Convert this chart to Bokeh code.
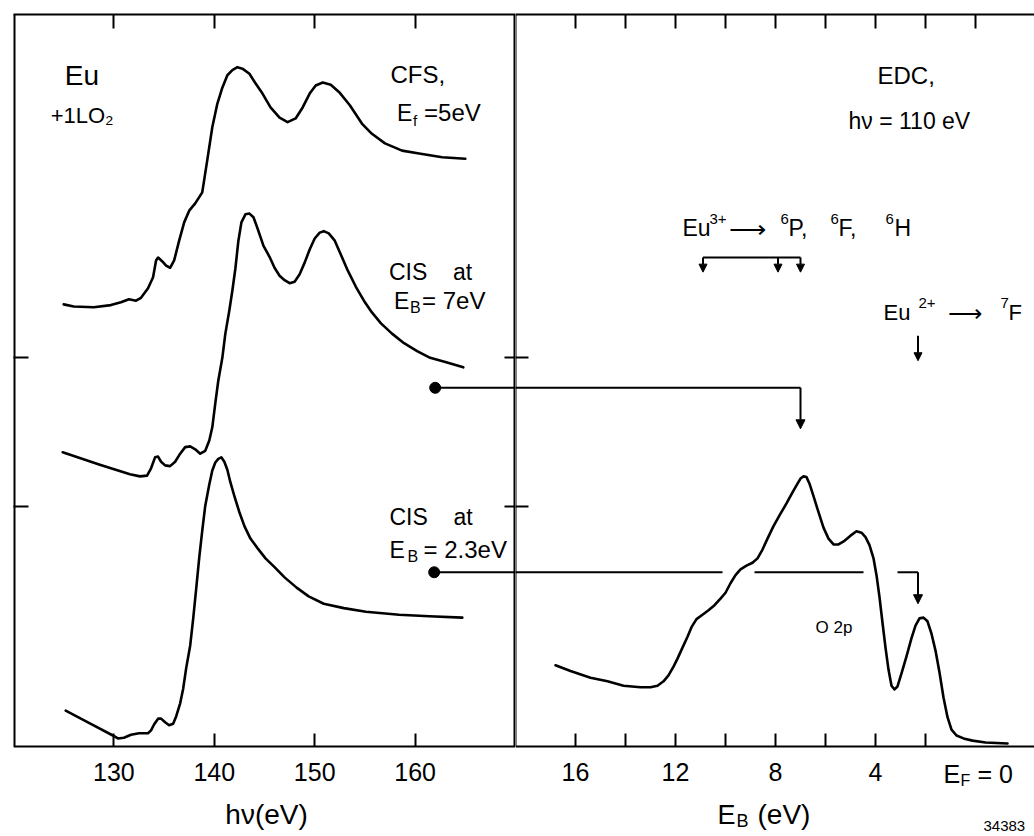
from bokeh.plotting import figure
from bokeh.layouts import row
from bokeh.models import Range1d, FixedTicker, LinearAxis, Label, Arrow, NormalHead
from bokeh.embed import file_html
from bokeh.resources import INLINE

# ---------------- data ----------------
# Left panel: photon energy hv (eV) vs. intensity (arb. units, 0..100)
cfs_hv = [125.0, 126.0, 128.0, 129.7, 130.7, 131.5, 132.2, 132.7, 133.4, 133.9, 134.2, 134.4,
          134.8, 135.2, 135.6, 136.0, 136.5, 137.0, 137.5, 138.1, 138.8, 139.3, 139.8, 140.3,
          140.8, 141.3, 141.8, 142.3, 142.8, 143.5, 144.1, 144.8, 145.6, 146.5, 147.3, 148.1,
          148.8, 149.5, 150.1, 150.8, 151.6, 152.5, 153.5, 154.7, 155.7, 157.0, 158.7, 160.4,
          162.7, 165.0]
cfs_int = [60.4, 60.1, 60.0, 60.3, 60.7, 61.1, 60.9, 61.3, 62.6, 64.1, 66.4, 66.8,
           66.3, 65.7, 65.4, 66.4, 69.1, 71.6, 73.2, 74.2, 75.7, 80.1, 84.6, 87.8,
           90.0, 91.7, 92.4, 92.8, 92.6, 91.9, 90.6, 89.2, 87.3, 85.9, 85.3, 85.8,
           87.3, 89.2, 90.3, 90.7, 90.4, 89.3, 87.6, 85.1, 83.7, 82.4, 81.4, 81.0,
           80.5, 80.3]

cis7_hv = [124.9, 128.6, 131.6, 132.6, 133.3, 133.7, 134.1, 134.4, 134.7, 135.1, 135.6, 136.1,
           136.6, 137.1, 137.6, 138.1, 138.6, 139.1, 139.5, 139.8, 140.1, 140.4, 140.8, 141.1,
           141.5, 141.8, 142.1, 142.4, 142.7, 143.1, 143.5, 143.9, 144.3, 144.9, 145.5, 146.0,
           146.5, 147.0, 147.5, 148.0, 148.5, 149.0, 149.5, 150.0, 150.5, 150.9, 151.4, 152.0,
           152.6, 153.3, 154.1, 154.9, 155.7, 156.6, 157.7, 158.9, 160.2, 161.5, 163.1, 164.8]
cis7_int = [40.2, 38.5, 37.2, 36.9, 37.0, 38.0, 39.5, 39.6, 38.9, 38.4, 38.3, 38.9,
            40.0, 40.9, 41.0, 40.6, 40.0, 40.4, 41.8, 43.6, 46.9, 50.0, 53.1, 56.4,
            59.6, 62.3, 65.3, 69.1, 71.6, 72.7, 72.8, 72.3, 70.8, 68.4, 66.9, 65.4,
            64.3, 63.7, 63.3, 63.5, 64.5, 66.1, 67.9, 69.4, 70.2, 70.4, 70.1, 69.1,
            67.2, 65.0, 62.8, 60.9, 59.3, 57.8, 56.4, 55.1, 54.0, 53.1, 52.5, 51.8]

cis23_hv = [125.2, 127.7, 129.9, 130.4, 131.0, 131.7, 132.5, 133.4, 133.7, 134.0, 134.4, 134.7,
            135.1, 135.5, 135.9, 136.2, 136.6, 136.9, 137.2, 137.6, 137.9, 138.2, 138.5, 138.8,
            139.1, 139.5, 139.8, 140.1, 140.4, 140.7, 141.0, 141.3, 141.6, 142.0, 142.5, 143.0,
            143.6, 144.3, 145.1, 146.0, 147.0, 148.2, 149.4, 150.9, 152.9, 155.1, 158.4, 161.4,
            164.7]
cis23_int = [4.9, 3.1, 1.5, 1.1, 1.2, 1.6, 1.8, 1.8, 2.2, 3.0, 3.8, 3.8,
             3.3, 2.9, 3.1, 4.1, 5.9, 7.9, 10.7, 13.8, 17.5, 21.6, 25.8, 29.5,
             32.9, 35.8, 37.7, 38.8, 39.3, 39.5, 38.9, 37.8, 36.1, 34.2, 32.0, 30.1,
             28.4, 27.1, 25.7, 24.5, 23.1, 21.7, 20.5, 19.5, 18.9, 18.4, 18.0, 17.8,
             17.6]

# Right panel: binding energy E_B (eV) vs. intensity
edc_eb = [16.80, 16.20, 15.40, 14.72, 14.08, 13.40, 13.00, 12.72, 12.48, 12.28, 12.08, 11.92,
          11.72, 11.52, 11.36, 11.16, 10.92, 10.68, 10.44, 10.20, 10.00, 9.80, 9.60, 9.40,
          9.16, 8.92, 8.72, 8.52, 8.32, 8.08, 7.80, 7.56, 7.32, 7.12, 7.00, 6.88, 6.76, 6.64,
          6.48, 6.28, 6.08, 5.88, 5.68, 5.48, 5.24, 5.00, 4.76, 4.56, 4.40, 4.24, 4.08, 3.96,
          3.84, 3.72, 3.60, 3.48, 3.36, 3.24, 3.12, 2.96, 2.76, 2.56, 2.40, 2.24, 2.08, 1.92,
          1.76, 1.60, 1.44, 1.28, 1.12, 0.96, 0.76, 0.48, 0.12, -0.40, -1.28]
edc_int = [11.1, 10.3, 9.4, 8.9, 8.3, 8.1, 8.1, 8.3, 8.9, 9.7, 10.9, 12.0,
           13.5, 15.0, 16.3, 17.4, 18.0, 18.6, 19.3, 20.2, 21.0, 22.3, 23.4, 24.2,
           24.7, 25.1, 25.7, 26.9, 28.4, 30.1, 31.8, 33.2, 34.7, 35.9, 36.6, 36.9, 36.8, 35.9,
           34.2, 32.0, 29.9, 28.4, 27.6, 27.6, 28.1, 28.8, 29.4, 29.2, 28.6, 27.5, 25.7, 23.4,
           20.4, 16.9, 13.5, 10.5, 8.3, 7.8, 8.2, 10.0, 12.3, 14.8, 16.5, 17.5, 17.6, 17.1,
           15.4, 13.1, 10.1, 6.7, 4.0, 2.3, 1.5, 1.1, 0.8, 0.55, 0.4]

# CIS markers: dot (hv, intensity) -> binding energy selected in the EDC
cis_dot_hv = [162.0, 161.9]
cis_dot_int = [49.0, 23.8]
cis_eb = [7.0, 2.3]
cis_arrow_tip = [43.4, 19.5]
cis23_gaps_eb = [(10.12, 8.84), (4.48, 3.12)]   # breaks where the line crosses the EDC

# multiplet final-state markers
eu3_levels = [10.9, 7.9, 7.0]
eu3_bar_int, eu3_tip_int = 66.8, 64.8
eu2_level = 2.3
eu2_start_int, eu2_tip_int = 56.1, 52.7

hv_range = (120, 170)
eb_range = (18.4, -2.36)
int_range = (-12.3, 100)
hv_ticks = [130, 140, 150, 160]
eb_bottom_ticks = [16, 14, 12, 10, 8, 6, 4, 2]
eb_top_ticks = [16, 14, 12, 10, 8, 6, 4, 2, 0]
eb_tick_labels = {16: "16", 14: "", 12: "12", 10: "", 8: "8", 6: "", 4: "4", 2: ""}
y_ticks = [32.8, 53.1]

# ---------------- styling ----------------
FONT = "Liberation Sans"
LW = 2.6
BASE_SHIFT = 8  # px: lifts label text so its baseline sits on the given point
NB = "\u00a0"


def style_axis(ax, ticks, tick_in, labels=None, line=True):
    ax.ticker = FixedTicker(ticks=ticks)
    ax.major_tick_in = tick_in
    ax.major_tick_out = 0
    ax.minor_tick_in = 0
    ax.minor_tick_out = 0
    ax.axis_line_color = "black" if line else None
    ax.axis_line_width = 2
    ax.major_tick_line_color = "black"
    ax.major_tick_line_width = 2
    ax.axis_label = None
    if labels is None:
        ax.major_label_text_font_size = "0px"
        ax.major_label_text_color = None
        ax.major_label_standoff = 0
    else:
        ax.major_label_overrides = labels
        ax.major_label_text_font = FONT
        ax.major_label_text_font_size = "25px"
        ax.major_label_text_color = "black"
        ax.major_label_standoff = 17


def make_fig(width, xr, mbl):
    p = figure(width=width, height=836, x_range=Range1d(*xr), y_range=Range1d(*int_range),
               output_backend="svg", toolbar_location=None,
               min_border_left=mbl, min_border_right=0, min_border_top=14, min_border_bottom=0,
               outline_line_color=None, background_fill_color="white",
               border_fill_color="white")
    p.xgrid.grid_line_color = None
    p.ygrid.grid_line_color = None
    # bottom axis drawn at zero intensity inside the frame, labels below it
    p.xaxis[0].fixed_location = 0
    return p


def label(p, x, y, text, size, dx=0, dy=0):
    p.add_layout(Label(x=x, y=y, text=text, x_offset=dx, y_offset=dy + BASE_SHIFT,
                       text_font=FONT, text_font_size=size, text_color="black",
                       text_baseline="alphabetic", text_align="left"))


def down_arrow(p, x, y0, y1, size=9):
    p.add_layout(Arrow(end=NormalHead(size=size, fill_color="black", line_color="black", line_width=1),
                       x_start=x, y_start=y0, x_end=x, y_end=y1,
                       line_color="black", line_width=2))


# ---------------- left panel: CFS / CIS spectra ----------------
left = make_fig(515, hv_range, 13)
style_axis(left.xaxis[0], hv_ticks, 13, labels={t: str(t) for t in hv_ticks})
style_axis(left.yaxis[0], y_ticks, 15, line=False)
top_l = LinearAxis()
left.add_layout(top_l, "above")
style_axis(top_l, hv_ticks, 14)
right_l = LinearAxis()
left.add_layout(right_l, "right")
style_axis(right_l, y_ticks, 11, line=False)
# vertical frame lines from zero intensity to the top
left.segment(x0=[hv_range[0], hv_range[1]], y0=[0, 0], x1=[hv_range[0], hv_range[1]],
             y1=[int_range[1]] * 2, line_color="black", line_width=4)

for xs, ys in [(cfs_hv, cfs_int), (cis7_hv, cis7_int), (cis23_hv, cis23_int)]:
    left.line(xs, ys, line_color="black", line_width=LW, line_join="round", line_cap="round")

for hv0, i0 in zip(cis_dot_hv, cis_dot_int):
    left.segment(x0=[hv0], y0=[i0], x1=[171], y1=[i0], line_color="black", line_width=2)
left.scatter(cis_dot_hv, cis_dot_int, size=11, color="black")

label(left, 125.1, 90.6, "Eu", "28px")
label(left, 123.7, 85.1, "+1LO₂", "22px")
label(left, 157.55, 90.7, "CFS,", "24px")
label(left, 158.2, 85.5, "E", "23px")
label(left, 158.2, 85.5, "f", "15px", dx=16, dy=-8)
label(left, 158.2, 85.5, "=5eV", "24px", dx=27)
label(left, 157.4, 63.7, "CIS" + NB * 4 + "at", "23px")
label(left, 157.9, 59.8, "E", "23px")
label(left, 157.9, 59.8, "B", "16px", dx=16, dy=-7)
label(left, 157.9, 59.8, "= 7eV", "24px", dx=28)
label(left, 157.45, 30.2, "CIS" + NB * 4 + "at", "23px")
label(left, 157.45, 25.8, "E", "23px")
label(left, 157.45, 25.8, "B", "16px", dx=18, dy=-7)
label(left, 157.45, 25.8, "= 2.3eV", "24px", dx=34)
label(left, 141.1, -10.4, "hν(eV)", "28px")

# ---------------- right panel: EDC ----------------
right = make_fig(519, eb_range, 0)
style_axis(right.xaxis[0], eb_bottom_ticks, 13, labels=eb_tick_labels)
style_axis(right.yaxis[0], y_ticks, 13, line=False)
top_r = LinearAxis()
right.add_layout(top_r, "above")
style_axis(top_r, eb_top_ticks, 14)
right.segment(x0=[eb_range[0]], y0=[0], x1=[eb_range[0]], y1=[int_range[1]],
              line_color="black", line_width=2)

right.line(edc_eb, edc_int, line_color="black", line_width=LW, line_join="round", line_cap="round")

# CIS at 7 eV connection
right.line([19.0, cis_eb[0]], [cis_dot_int[0], cis_dot_int[0]], line_color="black", line_width=2)
down_arrow(right, cis_eb[0], cis_dot_int[0], cis_arrow_tip[0])
# CIS at 2.3 eV connection (broken where it crosses the curve)
xs_pts = [19.0] + [v for g in cis23_gaps_eb for v in g] + [cis_eb[1]]
seg_x = [[xs_pts[k], xs_pts[k + 1]] for k in range(0, len(xs_pts), 2)]
seg_y = [[cis_dot_int[1], cis_dot_int[1]] for _ in seg_x]
right.multi_line(seg_x, seg_y, line_color="black", line_width=2)
down_arrow(right, cis_eb[1], cis_dot_int[1], cis_arrow_tip[1])

# multiplet markers
right.line([eu3_levels[0], eu3_levels[-1]], [eu3_bar_int, eu3_bar_int], line_color="black", line_width=2)
for lv in eu3_levels:
    down_arrow(right, lv, eu3_bar_int, eu3_tip_int, size=8)
down_arrow(right, eu2_level, eu2_start_int, eu2_tip_int, size=8)

label(right, 3.92, 90.6, "EDC,", "24px")
label(right, 5.08, 84.4, "hν = 110 eV", "23px")
# Eu3+ -> 6P, 6F, 6H
x0, y0 = 11.72, 69.8
label(right, x0, y0, "Eu", "23px")
label(right, x0, y0, "3+", "15px", dx=27, dy=9)
label(right, x0, y0, "⟶", "26px", dx=46, dy=-1)
label(right, x0, y0, "6", "15px", dx=98, dy=9)
label(right, x0, y0, "P,", "23px", dx=106)
label(right, x0, y0, "6", "15px", dx=148, dy=9)
label(right, x0, y0, "F,", "23px", dx=156)
label(right, x0, y0, "6", "15px", dx=203, dy=9)
label(right, x0, y0, "H", "23px", dx=212)
# Eu2+ -> 7F
x0, y0 = 3.68, 58.2
label(right, x0, y0, "Eu", "22px")
label(right, x0, y0, "2+", "15px", dx=35, dy=9)
label(right, x0, y0, "⟶", "24px", dx=64, dy=-1)
label(right, x0, y0, "7", "15px", dx=117, dy=9)
label(right, x0, y0, "F", "22px", dx=125)
label(right, 6.4, 15.2, "O 2p", "17px")
# E_F = 0 tick label
label(right, 1.28, -4.9, "E", "25px")
label(right, 1.28, -4.9, "F", "16px", dx=17, dy=-6)
label(right, 1.28, -4.9, "= 0", "25px", dx=34)
# axis title E_B (eV)
label(right, 10.32, -10.4, "E", "27px")
label(right, 10.32, -10.4, "B", "18px", dx=19, dy=-6)
label(right, 10.32, -10.4, "(eV)", "28px", dx=40)
label(right, -0.32, -11.9, "34383", "15px")

layout = row(left, right, spacing=0)
open("out.html", "w").write(file_html(layout, INLINE))
